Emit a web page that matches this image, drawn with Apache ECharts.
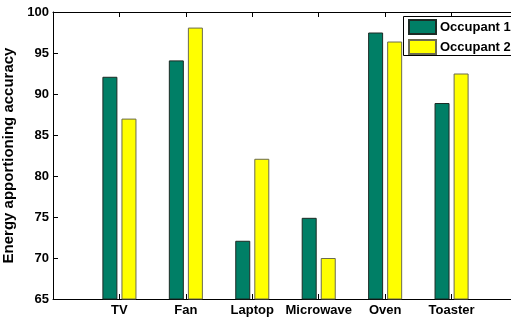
<!DOCTYPE html>
<html><head><meta charset="utf-8">
<script src="https://cdn.jsdelivr.net/npm/echarts@6/dist/echarts.min.js"></script>
<style>html,body{margin:0;padding:0;background:#fff}#c{width:511px;height:318px}</style>
</head><body><div id="c"></div>
<script>
var categories = ['TV', 'Fan', 'Laptop', 'Microwave', 'Oven', 'Toaster'];
var occupant1 = [92.1, 94.1, 72.1, 74.9, 97.5, 88.9];
var occupant2 = [87.0, 98.1, 82.1, 70.0, 96.4, 92.5];
var yTicks = [65, 70, 75, 80, 85, 90, 95, 100];
var seriesNames = ['Occupant 1', 'Occupant 2'];

var FONT = 'Liberation Sans, Arial, sans-serif';
function pts(vals) { return vals.map(function (v, i) { return [i + 1, v]; }); }
var catPos = categories.map(function (c, i) { return i + 1; });

var chart = echarts.init(document.getElementById('c'), null, {renderer: 'canvas'});
chart.setOption({
  animation: false,
  backgroundColor: '#fff',
  grid: {left: 53, right: -7, top: 12, bottom: 19, containLabel: false, outerBoundsMode: 'none'},
  graphic: [{
    type: 'rect', left: 403, top: 16, z: 90,
    shape: {x: 0, y: 0, width: 140, height: 39},
    style: {fill: '#fff', stroke: '#000', lineWidth: 1}
  }],
  xAxis: [{
    type: 'value', min: 0, max: categories.length + 1, interval: 1,
    axisLine: {show: true, lineStyle: {color: '#000', width: 1}},
    axisTick: {show: true, inside: true, length: 5, lineStyle: {color: '#000'}, customValues: catPos},
    axisLabel: {show: true, margin: 5, color: '#000', fontFamily: FONT, fontWeight: 'bold', fontSize: 13,
      customValues: catPos,
      formatter: function (v) { return categories[v - 1] || ''; }},
    splitLine: {show: false}
  }, {
    type: 'value', position: 'top', min: 0, max: categories.length + 1, interval: 1,
    axisLine: {show: true, lineStyle: {color: '#000', width: 1}},
    axisTick: {show: true, inside: true, length: 5, lineStyle: {color: '#000'}, customValues: catPos},
    axisLabel: {show: false},
    splitLine: {show: false}
  }],
  yAxis: {
    type: 'value', min: yTicks[0], max: yTicks[yTicks.length - 1], interval: 5,
    name: 'Energy apportioning accuracy', nameLocation: 'middle', nameGap: 33,
    nameTextStyle: {color: '#000', fontFamily: FONT, fontWeight: 'bold', fontSize: 15},
    axisLine: {show: true, lineStyle: {color: '#000', width: 1}},
    axisTick: {show: true, inside: true, length: 5, lineStyle: {color: '#000'}},
    axisLabel: {margin: 4, color: '#000', fontFamily: FONT, fontWeight: 'bold', fontSize: 13},
    splitLine: {show: false}
  },
  legend: {
    orient: 'vertical', left: 403, top: 16, itemWidth: 27, itemHeight: 14, itemGap: 4,
    padding: [3, 0, 3, 5], borderWidth: 0, backgroundColor: 'transparent', z: 100,
    icon: 'rect',
    textStyle: {color: '#000', fontFamily: FONT, fontWeight: 'bold', fontSize: 13, padding: [0, 0, 0, -1]},
    data: seriesNames
  },
  series: [{
    name: seriesNames[0], type: 'bar', data: pts(occupant1), barWidth: 15, barGap: '27%',
    itemStyle: {color: '#007f66', borderColor: '#1c2a24', borderWidth: 1}
  }, {
    name: seriesNames[1], type: 'bar', data: pts(occupant2), barWidth: 15, barGap: '27%',
    itemStyle: {color: '#ffff00', borderColor: '#6b6b50', borderWidth: 1}
  }]
});
</script></body></html>
